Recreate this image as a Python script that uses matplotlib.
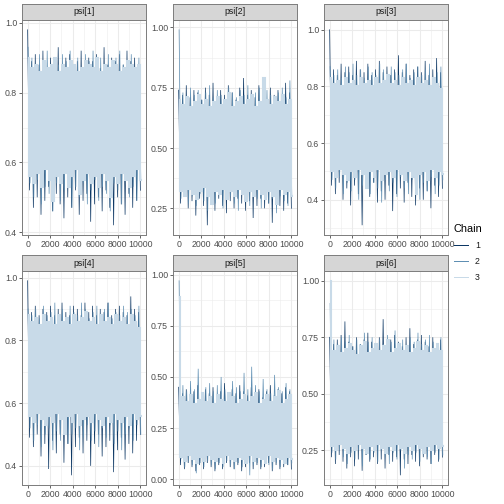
import numpy as np
import matplotlib
matplotlib.use("Agg")
import matplotlib.pyplot as plt

plt.rcParams['font.family'] = ['Liberation Sans', 'DejaVu Sans']

# parameter names and chains
params = ["psi[1]", "psi[2]", "psi[3]", "psi[4]", "psi[5]", "psi[6]"]
chains = ["1", "2", "3"]
n_iter = 10000

# traces (alternating upper / lower swings)
psi1_ch1 = [0.98, 0.52, 0.89, 0.47, 0.91, 0.50, 0.88, 0.45, 0.92, 0.49,
            0.87, 0.53, 0.90, 0.46, 0.89, 0.51, 0.93, 0.48, 0.88, 0.44,
            0.90, 0.50, 0.91, 0.47, 0.87, 0.52, 0.89, 0.45, 0.92, 0.49,
            0.88, 0.51, 0.90, 0.43, 0.89, 0.48, 0.91, 0.50, 0.87, 0.46,
            0.93, 0.52, 0.88, 0.47, 0.90, 0.42, 0.89, 0.50, 0.91, 0.48,
            0.88, 0.45, 0.92, 0.51, 0.89, 0.47, 0.90, 0.49, 0.88, 0.52]
psi1_ch2 = [0.93, 0.54, 0.90, 0.50, 0.88, 0.55, 0.91, 0.48, 0.89, 0.53,
            0.92, 0.51, 0.87, 0.46, 0.90, 0.54, 0.88, 0.49, 0.91, 0.52,
            0.89, 0.55, 0.92, 0.47, 0.88, 0.53, 0.90, 0.50, 0.87, 0.54,
            0.91, 0.48, 0.89, 0.52, 0.92, 0.55, 0.88, 0.49, 0.90, 0.53,
            0.87, 0.51, 0.91, 0.46, 0.89, 0.54, 0.90, 0.52, 0.92, 0.48,
            0.88, 0.55, 0.89, 0.50, 0.91, 0.53, 0.87, 0.49, 0.90, 0.55]
psi1_ch3 = [0.90, 0.56, 0.87, 0.54, 0.88, 0.57, 0.86, 0.53, 0.89, 0.58,
            0.87, 0.55, 0.88, 0.49, 0.90, 0.56, 0.86, 0.54, 0.88, 0.57,
            0.87, 0.53, 0.89, 0.56, 0.88, 0.58, 0.86, 0.51, 0.87, 0.55,
            0.89, 0.57, 0.88, 0.54, 0.87, 0.56, 0.90, 0.53, 0.86, 0.57,
            0.88, 0.55, 0.87, 0.50, 0.89, 0.56, 0.88, 0.54, 0.86, 0.57,
            0.87, 0.55, 0.89, 0.53, 0.88, 0.56, 0.87, 0.58, 0.88, 0.55]

psi2_ch1 = [0.74, 0.27, 0.72, 0.30, 0.76, 0.25, 0.71, 0.28, 0.74, 0.22,
            0.73, 0.29, 0.70, 0.26, 0.75, 0.18, 0.72, 0.27, 0.77, 0.24,
            0.71, 0.29, 0.74, 0.26, 0.72, 0.23, 0.76, 0.28, 0.73, 0.25,
            0.70, 0.29, 0.75, 0.27, 0.79, 0.24, 0.72, 0.28, 0.74, 0.21,
            0.71, 0.26, 0.76, 0.29, 0.73, 0.25, 0.70, 0.27, 0.75, 0.19,
            0.72, 0.28, 0.74, 0.26, 0.71, 0.24, 0.77, 0.27, 0.73, 0.25]
psi2_ch2 = [0.99, 0.29, 0.73, 0.31, 0.71, 0.27, 0.75, 0.30, 0.72, 0.26,
            0.74, 0.31, 0.70, 0.28, 0.73, 0.24, 0.76, 0.30, 0.71, 0.27,
            0.74, 0.31, 0.72, 0.25, 0.70, 0.29, 0.75, 0.30, 0.73, 0.27,
            0.71, 0.24, 0.74, 0.31, 0.72, 0.28, 0.76, 0.26, 0.70, 0.30,
            0.73, 0.29, 0.75, 0.25, 0.71, 0.31, 0.74, 0.27, 0.72, 0.29,
            0.70, 0.23, 0.73, 0.30, 0.75, 0.28, 0.71, 0.26, 0.78, 0.30]
psi2_ch3 = [0.70, 0.32, 0.68, 0.30, 0.71, 0.33, 0.67, 0.31, 0.69, 0.29,
            0.72, 0.32, 0.68, 0.34, 0.70, 0.30, 0.67, 0.27, 0.69, 0.32,
            0.71, 0.31, 0.68, 0.33, 0.70, 0.29, 0.73, 0.32, 0.67, 0.30,
            0.69, 0.33, 0.71, 0.31, 0.68, 0.28, 0.70, 0.32, 0.72, 0.30,
            0.67, 0.33, 0.69, 0.31, 0.79, 0.29, 0.70, 0.32, 0.68, 0.30,
            0.71, 0.27, 0.69, 0.33, 0.72, 0.31, 0.68, 0.32, 0.70, 0.30]

psi3_ch1 = [1.00, 0.45, 0.86, 0.42, 0.84, 0.46, 0.88, 0.40, 0.85, 0.44,
            0.87, 0.38, 0.84, 0.45, 0.89, 0.42, 0.86, 0.31, 0.85, 0.44,
            0.88, 0.41, 0.84, 0.46, 0.86, 0.39, 0.89, 0.43, 0.85, 0.40,
            0.87, 0.45, 0.84, 0.36, 0.86, 0.42, 0.91, 0.44, 0.85, 0.39,
            0.88, 0.46, 0.84, 0.41, 0.86, 0.38, 0.87, 0.44, 0.85, 0.40,
            0.89, 0.43, 0.84, 0.37, 0.86, 0.45, 0.90, 0.41, 0.85, 0.44]
psi3_ch2 = [0.87, 0.47, 0.84, 0.44, 0.86, 0.48, 0.83, 0.42, 0.87, 0.46,
            0.85, 0.43, 0.88, 0.47, 0.84, 0.40, 0.86, 0.45, 0.83, 0.48,
            0.87, 0.42, 0.85, 0.46, 0.84, 0.44, 0.88, 0.39, 0.86, 0.47,
            0.83, 0.43, 0.87, 0.46, 0.85, 0.41, 0.84, 0.48, 0.86, 0.44,
            0.88, 0.42, 0.83, 0.47, 0.85, 0.45, 0.87, 0.40, 0.84, 0.46,
            0.86, 0.43, 0.88, 0.48, 0.83, 0.42, 0.85, 0.45, 0.87, 0.47]
psi3_ch3 = [0.83, 0.50, 0.81, 0.48, 0.82, 0.51, 0.80, 0.49, 0.83, 0.47,
            0.81, 0.50, 0.82, 0.48, 0.80, 0.51, 0.83, 0.49, 0.81, 0.44,
            0.82, 0.50, 0.80, 0.48, 0.83, 0.51, 0.81, 0.47, 0.82, 0.49,
            0.84, 0.50, 0.81, 0.48, 0.82, 0.51, 0.80, 0.49, 0.83, 0.47,
            0.81, 0.50, 0.82, 0.48, 0.80, 0.42, 0.83, 0.49, 0.81, 0.50,
            0.82, 0.47, 0.80, 0.51, 0.83, 0.48, 0.81, 0.50, 0.79, 0.49]

psi4_ch1 = [0.99, 0.49, 0.89, 0.46, 0.91, 0.50, 0.88, 0.43, 0.90, 0.47,
            0.89, 0.39, 0.91, 0.48, 0.88, 0.44, 0.90, 0.50, 0.92, 0.41,
            0.89, 0.47, 0.88, 0.37, 0.91, 0.46, 0.90, 0.49, 0.88, 0.44,
            0.92, 0.48, 0.89, 0.40, 0.91, 0.47, 0.88, 0.50, 0.90, 0.43,
            0.89, 0.46, 0.92, 0.48, 0.88, 0.38, 0.90, 0.45, 0.91, 0.49,
            0.89, 0.42, 0.88, 0.47, 0.94, 0.44, 0.90, 0.48, 0.89, 0.50]
psi4_ch2 = [0.90, 0.52, 0.88, 0.48, 0.90, 0.53, 0.87, 0.46, 0.91, 0.50,
            0.88, 0.52, 0.89, 0.45, 0.92, 0.51, 0.88, 0.48, 0.90, 0.53,
            0.87, 0.47, 0.91, 0.50, 0.89, 0.52, 0.88, 0.45, 0.92, 0.49,
            0.90, 0.53, 0.87, 0.48, 0.89, 0.51, 0.91, 0.46, 0.88, 0.52,
            0.90, 0.49, 0.92, 0.53, 0.87, 0.47, 0.89, 0.51, 0.88, 0.45,
            0.91, 0.50, 0.89, 0.52, 0.90, 0.48, 0.88, 0.53, 0.91, 0.50]
psi4_ch3 = [0.88, 0.56, 0.86, 0.54, 0.87, 0.57, 0.85, 0.55, 0.88, 0.53,
            0.86, 0.56, 0.87, 0.54, 0.85, 0.57, 0.88, 0.55, 0.86, 0.50,
            0.87, 0.56, 0.85, 0.54, 0.88, 0.57, 0.86, 0.53, 0.87, 0.55,
            0.89, 0.56, 0.86, 0.54, 0.87, 0.57, 0.85, 0.55, 0.88, 0.53,
            0.86, 0.56, 0.87, 0.54, 0.85, 0.57, 0.88, 0.55, 0.86, 0.54,
            0.87, 0.56, 0.85, 0.53, 0.88, 0.57, 0.86, 0.55, 0.84, 0.56]

psi5_ch1 = [0.45, 0.07, 0.42, 0.05, 0.44, 0.08, 0.40, 0.06, 0.43, 0.04,
            0.46, 0.07, 0.41, 0.05, 0.44, 0.08, 0.42, 0.06, 0.45, 0.04,
            0.40, 0.07, 0.43, 0.05, 0.47, 0.08, 0.41, 0.06, 0.44, 0.05,
            0.42, 0.07, 0.46, 0.04, 0.43, 0.06, 0.41, 0.08, 0.45, 0.05,
            0.42, 0.07, 0.44, 0.05, 0.40, 0.06, 0.43, 0.08, 0.46, 0.04,
            0.41, 0.07, 0.44, 0.05, 0.42, 0.06, 0.45, 0.07, 0.43, 0.05]
psi5_ch2 = [0.97, 0.10, 0.46, 0.06, 0.43, 0.09, 0.48, 0.07, 0.44, 0.03,
            0.54, 0.08, 0.42, 0.06, 0.45, 0.09, 0.47, 0.07, 0.43, 0.05,
            0.46, 0.08, 0.50, 0.06, 0.44, 0.09, 0.42, 0.07, 0.48, 0.05,
            0.45, 0.08, 0.43, 0.06, 0.52, 0.09, 0.44, 0.02, 0.55, 0.07,
            0.46, 0.08, 0.43, 0.06, 0.49, 0.09, 0.44, 0.07, 0.42, 0.05,
            0.51, 0.08, 0.45, 0.06, 0.43, 0.09, 0.47, 0.07, 0.44, 0.08]
psi5_ch3 = [0.89, 0.11, 0.40, 0.09, 0.38, 0.12, 0.41, 0.10, 0.37, 0.08,
            0.39, 0.11, 0.42, 0.09, 0.38, 0.12, 0.40, 0.10, 0.37, 0.09,
            0.41, 0.11, 0.39, 0.08, 0.38, 0.12, 0.42, 0.10, 0.40, 0.09,
            0.37, 0.11, 0.39, 0.10, 0.41, 0.08, 0.38, 0.12, 0.40, 0.09,
            0.42, 0.11, 0.37, 0.10, 0.39, 0.08, 0.41, 0.12, 0.38, 0.09,
            0.40, 0.11, 0.43, 0.10, 0.37, 0.08, 0.39, 0.11, 0.41, 0.10]

psi6_ch1 = [0.75, 0.22, 0.72, 0.19, 0.74, 0.23, 0.76, 0.20, 0.82, 0.17,
            0.73, 0.22, 0.71, 0.18, 0.75, 0.21, 0.72, 0.16, 0.74, 0.23,
            0.77, 0.20, 0.73, 0.22, 0.71, 0.19, 0.75, 0.21, 0.83, 0.17,
            0.72, 0.23, 0.74, 0.20, 0.76, 0.22, 0.73, 0.14, 0.71, 0.21,
            0.75, 0.19, 0.79, 0.23, 0.72, 0.20, 0.74, 0.18, 0.76, 0.22,
            0.73, 0.21, 0.71, 0.19, 0.75, 0.23, 0.72, 0.20, 0.74, 0.22]
psi6_ch2 = [0.90, 0.24, 0.74, 0.21, 0.72, 0.25, 0.75, 0.22, 0.73, 0.19,
            0.76, 0.24, 0.71, 0.21, 0.74, 0.25, 0.72, 0.18, 0.77, 0.23,
            0.73, 0.21, 0.75, 0.24, 0.71, 0.20, 0.74, 0.25, 0.72, 0.22,
            0.76, 0.19, 0.73, 0.24, 0.78, 0.21, 0.72, 0.25, 0.74, 0.17,
            0.71, 0.23, 0.75, 0.21, 0.73, 0.24, 0.77, 0.20, 0.72, 0.25,
            0.74, 0.22, 0.76, 0.19, 0.73, 0.24, 0.71, 0.21, 0.75, 0.23]
psi6_ch3 = [1.00, 0.27, 0.69, 0.25, 0.71, 0.28, 0.68, 0.26, 0.70, 0.24,
            0.72, 0.27, 0.69, 0.25, 0.67, 0.28, 0.71, 0.26, 0.73, 0.24,
            0.68, 0.27, 0.70, 0.25, 0.72, 0.28, 0.69, 0.26, 0.71, 0.24,
            0.74, 0.27, 0.68, 0.25, 0.70, 0.28, 0.72, 0.26, 0.69, 0.24,
            0.71, 0.27, 0.68, 0.25, 0.70, 0.28, 0.73, 0.26, 0.69, 0.24,
            0.71, 0.27, 0.68, 0.25, 0.70, 0.28, 0.72, 0.26, 0.69, 0.27]

traces = [
    [psi1_ch1, psi1_ch2, psi1_ch3],
    [psi2_ch1, psi2_ch2, psi2_ch3],
    [psi3_ch1, psi3_ch2, psi3_ch3],
    [psi4_ch1, psi4_ch2, psi4_ch3],
    [psi5_ch1, psi5_ch2, psi5_ch3],
    [psi6_ch1, psi6_ch2, psi6_ch3],
]

y_ticks = [
    [0.4, 0.6, 0.8, 1.0],
    [0.25, 0.50, 0.75, 1.00],
    [0.4, 0.6, 0.8, 1.0],
    [0.4, 0.6, 0.8, 1.0],
    [0.00, 0.25, 0.50, 0.75, 1.00],
    [0.25, 0.50, 0.75, 1.00],
]
y_labels = [
    ["0.4", "0.6", "0.8", "1.0"],
    ["0.25", "0.50", "0.75", "1.00"],
    ["0.4", "0.6", "0.8", "1.0"],
    ["0.4", "0.6", "0.8", "1.0"],
    ["0.00", "0.25", "0.50", "0.75", "1.00"],
    ["0.25", "0.50", "0.75", "1.00"],
]
x_ticks = [0, 2000, 4000, 6000, 8000, 10000]

colors = ['#0d3764', '#5f8fb3', '#c8dae8']
widths = [0.7, 0.7, 2.1]

W = 504.0
fig = plt.figure(figsize=(7, 7), dpi=72)


def px_axes(left, top, width, height):
    return fig.add_axes([left / W, 1 - (top + height) / W, width / W, height / W])


col_left = [22, 173, 324]
panel_w = 124
strip_top = [4, 255]
strip_h = [16, 16]
panel_top = [20, 271]
panel_h = [215, 214]

for i, name in enumerate(params):
    r, c = divmod(i, 3)
    ax = px_axes(col_left[c], panel_top[r], panel_w, panel_h[r])

    for k, vals in enumerate(traces[i]):
        x = np.linspace(1, n_iter, len(vals)) + k * 40
        ds = 'steps-mid' if k == 2 else 'default'
        ax.plot(x, vals, color=colors[k], lw=widths[k], drawstyle=ds,
                solid_joinstyle='miter', zorder=2 + k)

    yt = y_ticks[i]
    step = yt[1] - yt[0]
    ax.set_yticks(yt)
    ax.set_yticklabels(y_labels[i])
    ax.set_yticks([t + step / 2 for t in [yt[0] - step] + yt], minor=True)
    ax.set_xticks(x_ticks)
    ax.set_xticklabels([str(t) for t in x_ticks])
    ax.set_xticks([1000, 3000, 5000, 7000, 9000], minor=True)

    # ggplot style 5% expansion of the data range
    allv = np.concatenate([np.array(v) for v in traces[i]])
    lo, hi = allv.min(), allv.max()
    pad = (hi - lo) * 0.05
    ax.set_ylim(lo - pad, hi + pad)
    ax.set_xlim(1 - 0.05 * (n_iter - 1), n_iter + 0.05 * (n_iter - 1))

    ax.grid(True, which='major', color='#ebebeb', lw=1.07, zorder=0)
    ax.grid(True, which='minor', color='#ebebeb', lw=0.53, zorder=0)
    ax.set_axisbelow(True)
    ax.tick_params(which='major', length=2.75, width=0.8, color='#444444',
                   labelsize=8.8, labelcolor='#4d4d4d', pad=2.2)
    ax.tick_params(which='minor', length=0)
    for s in ax.spines.values():
        s.set_color('#7f7f7f')
        s.set_linewidth(1.0)
        s.set_zorder(10)

    sax = px_axes(col_left[c], strip_top[r], panel_w, strip_h[r])
    sax.set_facecolor('#d6d6d6')
    sax.set_xticks([])
    sax.set_yticks([])
    for s in sax.spines.values():
        s.set_color('#7f7f7f')
        s.set_linewidth(1.0)
    sax.text(0.5, 0.5, name, ha='center', va='center', fontsize=8.8,
             color='#1a1a1a', transform=sax.transAxes)

leg_handles = [plt.Line2D([], [], color=colors[k], lw=1.0) for k in range(3)]
leg = fig.legend(leg_handles, chains, title='Chain', loc='upper left',
                 bbox_to_anchor=(446 / W, 1 - 216 / W), frameon=False,
                 fontsize=8.8, title_fontsize=11, handlelength=1.6,
                 labelspacing=0.8, handletextpad=0.8, alignment='left')
for t in leg.get_texts():
    t.set_color('#1a1a1a')

fig.savefig('out.png', dpi=72)
